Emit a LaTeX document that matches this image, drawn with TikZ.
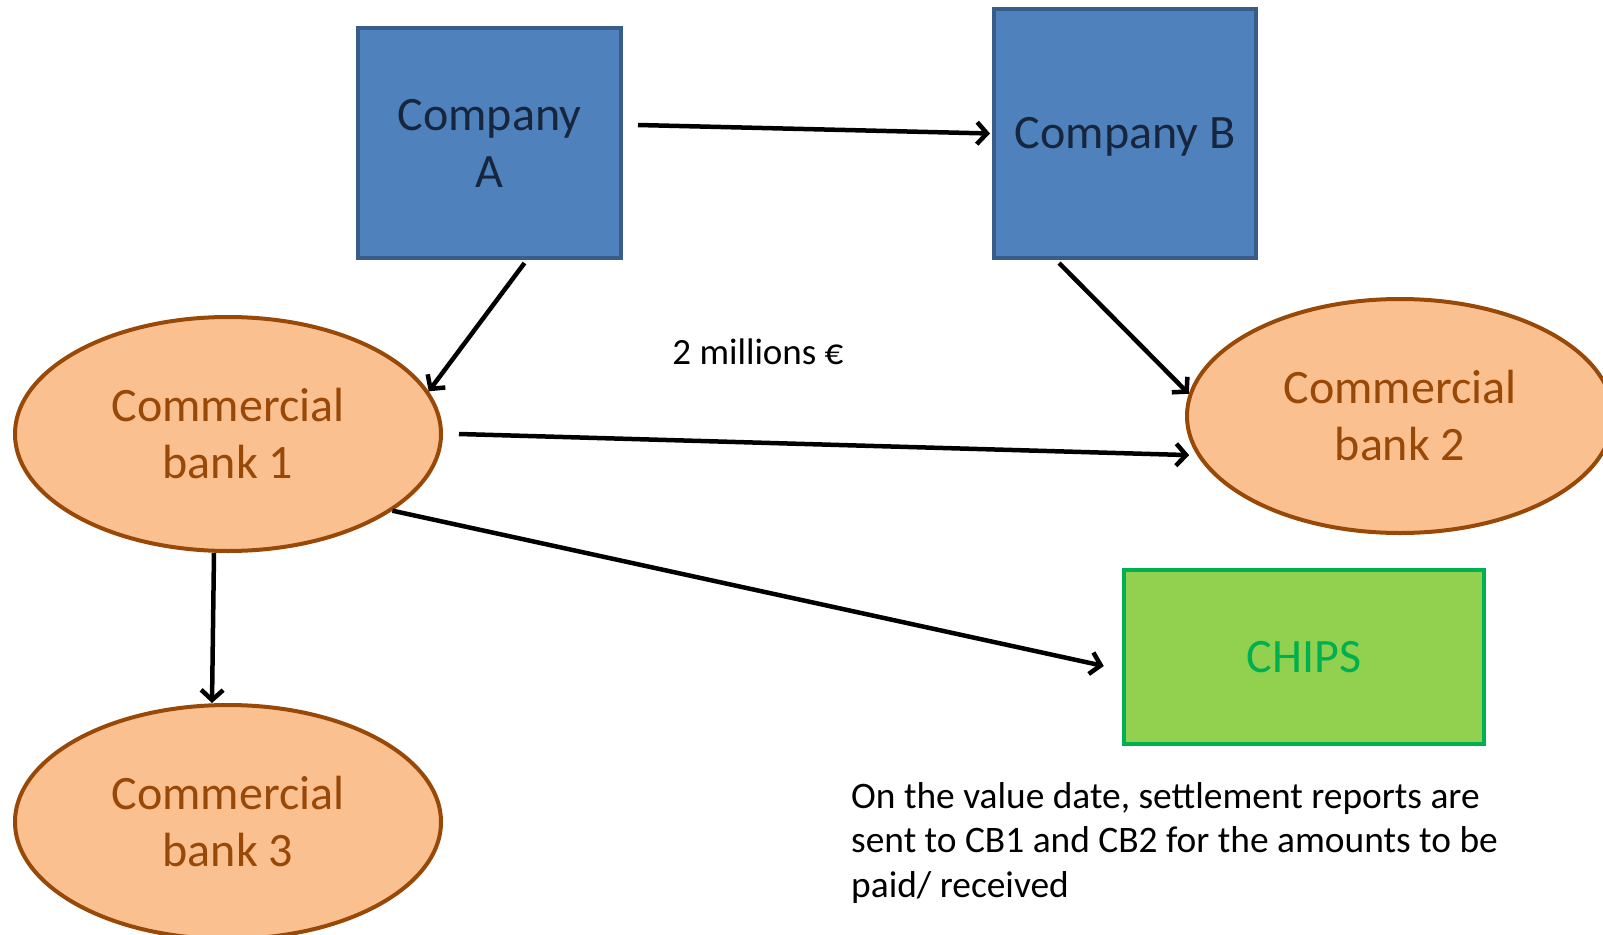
\documentclass[tikz,border=0pt]{standalone}
\usepackage{fontspec}
\setmainfont{Carlito}
\usetikzlibrary{shapes.geometric,arrows.meta}
\definecolor{boxfill}{HTML}{4F81BD}
\definecolor{boxline}{HTML}{385D8A}
\definecolor{boxtext}{HTML}{17263C}
\definecolor{cbfill}{HTML}{FAC090}
\definecolor{cbline}{HTML}{984807}
\definecolor{chipsfill}{HTML}{92D050}
\definecolor{chipsline}{HTML}{00B050}
\tikzset{
  company/.style={draw=boxline, fill=boxfill, line width=4pt, rectangle, inner sep=0pt,
    text=boxtext, font=\fontsize{48}{57}\selectfont},
  bank/.style={draw=cbline, fill=cbfill, line width=4pt, ellipse, inner sep=0pt,
    minimum width=426pt, minimum height=234pt,
    text=cbline, font=\fontsize{48}{57}\selectfont, align=center},
  chipsbox/.style={draw=chipsline, fill=chipsfill, line width=4.5pt, rectangle, inner sep=0pt,
    minimum width=360pt, minimum height=174pt,
    text=chipsline, font=\fontsize{48}{57}\selectfont},
  conn/.style={line width=4.5pt, -{Straight Barb[length=10pt,width=22pt,line width=4.5pt]}},
  note/.style={inner sep=0pt, font=\fontsize{37.4}{44.5}\selectfont, align=left}
}
\begin{document}
\begin{tikzpicture}[x=1pt,y=-1pt]
\useasboundingbox (0,0) rectangle (1603,934);
\node[company, align=center, minimum width=263pt, minimum height=230pt] (A) at (489.5,143) {Company\\A};
\node[company, text height=40pt, text depth=10pt, minimum width=262pt, minimum height=249pt] (B) at (1125,133.5) {Company B};
\node[bank] (cb1) at (228,434) {Commercial\\bank 1};
\node[bank] (cb2) at (1400,416) {Commercial\\bank 2};
\node[bank] (cb3) at (228,822) {Commercial\\bank 3};
\node[chipsbox] (chips) at (1304,657) {CHIPS};
\node[inner sep=0pt, font=\fontsize{37}{44}\selectfont] (amt) at (758,352) {2 millions €};
\node[note, anchor=north west] (txt) at (851,782) {On the value date, settlement reports are\\sent to CB1 and CB2 for the amounts to be\\paid/ received};

\draw[conn] ([xshift=15pt,yshift=18pt]A.east) -- ([xshift=-2pt]B.west);
\draw[conn] ([xshift=35pt,yshift=-3pt]A.south) -- (cb1.12);
\draw[conn] ([xshift=-66pt,yshift=-3pt]B.south) -- (cb2.174);
\draw[conn] ([xshift=16pt]cb1.east) -- ([xshift=-6pt,yshift=-3pt]cb2.190);
\draw[conn] (cb1.-25) -- ([xshift=-18pt,yshift=-9pt]chips.west);
\draw[conn] ([xshift=-14pt]cb1.south) -- ([xshift=-16pt]cb3.north);
\end{tikzpicture}
\end{document}
